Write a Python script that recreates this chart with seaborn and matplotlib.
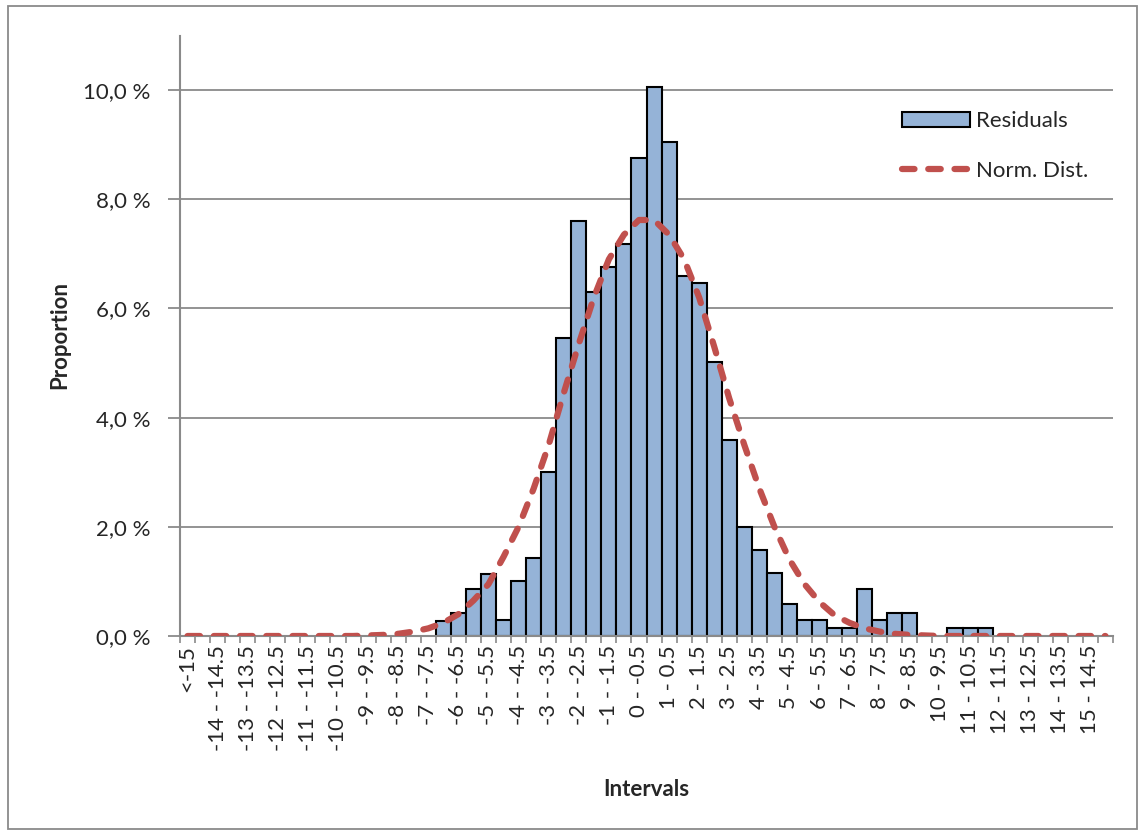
import numpy as np
import pandas as pd
import matplotlib
matplotlib.use("Agg")
import matplotlib.pyplot as plt
import seaborn as sns
from matplotlib.ticker import FuncFormatter
from matplotlib.patches import Rectangle, Patch
from matplotlib.lines import Line2D

sns.set_theme(style="white")
plt.rcParams['font.family'] = ['Lato', 'DejaVu Sans']

# ---- data -------------------------------------------------------------
upper_edges = [-15 + 0.5 * k for k in range(1, 61)]
categories = ["<-15"] + [f"{u:g} - {u - 0.5:g}" for u in upper_edges] + [">15"]

residuals = [0, 0, 0, 0, 0, 0, 0, 0, 0, 0,
             0, 0, 0, 0, 0, 0, 0, 0.28, 0.43, 0.86,
             1.14, 0.29, 1.00, 1.43, 3.00, 5.45, 7.60, 6.31, 6.75, 7.18,
             8.76, 10.06, 9.04, 6.60, 6.46, 5.02, 3.59, 2.00, 1.58, 1.15,
             0.58, 0.29, 0.29, 0.14, 0.14, 0.86, 0.29, 0.43, 0.43, 0,
             0, 0.14, 0.14, 0.14, 0, 0, 0, 0, 0, 0,
             0, 0]

norm_dist = [0, 0, 0, 0, 0, 0, 0, 0, 0, 0,
             0, 0, 0.01, 0.02, 0.04, 0.08, 0.14, 0.24, 0.40, 0.65,
             0.95, 1.45, 2.00, 2.70, 3.50, 4.45, 5.35, 6.20, 6.90, 7.35,
             7.62, 7.62, 7.35, 6.90, 6.20, 5.30, 4.35, 3.50, 2.70, 2.00,
             1.40, 0.95, 0.62, 0.38, 0.24, 0.14, 0.08, 0.04, 0.02, 0.01,
             0, 0, 0, 0, 0, 0, 0, 0, 0, 0,
             0, 0]

y_ticks = [0, 2, 4, 6, 8, 10]

BAR_COLOR = "#95B3D7"
LINE_COLOR = "#C0504D"
GRID_COLOR = "#8A8A8A"
FS = 16
LINE_W = 4.5
DASH = (0, (2.0, 2.2))
EDGE_W = 1.5

# ---- figure ------------------------------------------------------------
W, H = 1140, 834
fig = plt.figure(figsize=(W / 100, H / 100), dpi=100)
ax = fig.add_axes([180 / W, 1 - 636 / H, (1113 - 180) / W, (636 - 36) / H])

df = pd.DataFrame({"Interval": categories, "Proportion": residuals})
sns.barplot(data=df, x="Interval", y="Proportion", order=categories,
            color=BAR_COLOR, saturation=1, width=1.0,
            edgecolor="black", linewidth=EDGE_W, ax=ax, zorder=2)
for p in ax.patches:
    if p.get_height() == 0:
        p.set_linewidth(0)

sns.lineplot(x=np.arange(len(categories)), y=norm_dist, ax=ax,
             color=LINE_COLOR, linewidth=LINE_W, linestyle=DASH,
             dash_capstyle="round", zorder=4, legend=False)

# axes limits & ticks
ax.set_xlim(-0.5, len(categories) - 0.5)
ax.set_ylim(0, 10.99)
major = list(range(0, len(categories), 2))
ax.set_xticks(major)
ax.set_xticklabels([categories[i] for i in major], rotation=90, fontsize=FS)
ax.set_xticks(np.arange(-0.5, len(categories), 1), minor=True)
ax.tick_params(axis="x", which="major", bottom=True, length=0, pad=6.5)
ax.tick_params(axis="x", which="minor", bottom=True, length=5, width=1.2,
               color=GRID_COLOR, direction="out")

ax.set_yticks(y_ticks)
ax.yaxis.set_major_formatter(FuncFormatter(lambda v, _: f"{v:.1f}".replace(".", ",") + " %"))
ax.tick_params(axis="y", left=True, length=9, width=1.3, color=GRID_COLOR,
               direction="out", labelsize=FS, pad=12)

ax.yaxis.grid(True, color=GRID_COLOR, linewidth=1.3)
ax.xaxis.grid(False)
ax.set_axisbelow(True)

for side in ["top", "right"]:
    ax.spines[side].set_visible(False)
for side in ["left", "bottom"]:
    ax.spines[side].set_color(GRID_COLOR)
    ax.spines[side].set_linewidth(1.5)

ax.set_xlabel("")
ax.set_ylabel("")
fig.text(60 / W, 1 - 335 / H, "Proportion", rotation=90, ha="center",
         va="center", fontsize=FS, fontweight="bold")
fig.text(646 / W, 1 - 789 / H, "Intervals", ha="center", va="center",
         fontsize=FS, fontweight="bold")

# legend
handles = [Patch(facecolor=BAR_COLOR, edgecolor="black", linewidth=EDGE_W),
           Line2D([0], [0], color=LINE_COLOR, linewidth=LINE_W,
                  linestyle=DASH, dash_capstyle="round")]
ax.legend(handles, ["Residuals", "Norm. Dist."], loc="upper left",
          bbox_to_anchor=(902 / W, 1 - 111 / H), bbox_transform=fig.transFigure,
          frameon=False, borderpad=0, borderaxespad=0, handlelength=3.05,
          handleheight=0.65, handletextpad=0.3, labelspacing=1.35, fontsize=FS)

# outer chart border
fig.add_artist(Rectangle((8 / W, 5 / H), (1137 - 8) / W, (828 - 5) / H,
                         transform=fig.transFigure, fill=False,
                         edgecolor=GRID_COLOR, linewidth=1.3))

fig.savefig("out.png", dpi=100)
